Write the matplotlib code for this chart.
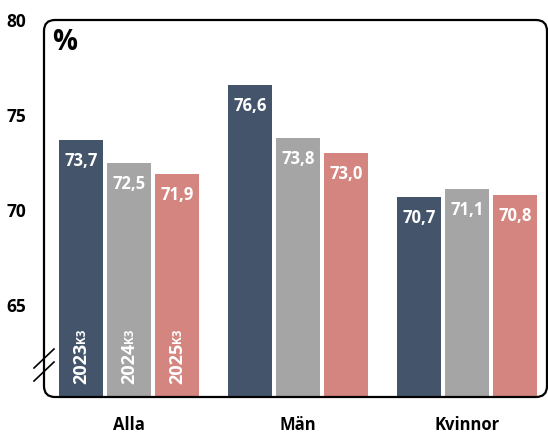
import matplotlib
matplotlib.use("Agg")
import matplotlib.pyplot as plt
from matplotlib.patches import FancyBboxPatch
from matplotlib.lines import Line2D
from matplotlib.transforms import IdentityTransform
from matplotlib import font_manager as fm
import numpy as np

# pick a definite bold face file
bold_path = None
for pref in ("OpenSans-Bold.ttf", "Lato-Bold.ttf"):
    for f in fm.fontManager.ttflist:
        if f.fname.split("/")[-1] == pref:
            bold_path = f.fname
            break
    if bold_path:
        break


def fp(size):
    if bold_path:
        return fm.FontProperties(fname=bold_path, size=size)
    return fm.FontProperties(family="DejaVu Sans", weight="bold", size=size)


categories = ["Alla", "Män", "Kvinnor"]
years = ["2023", "2024", "2025"]
quarter = "K3"
values = {
    "2023": [73.7, 76.6, 70.7],
    "2024": [72.5, 73.8, 71.1],
    "2025": [71.9, 73.0, 70.8],
}
colors = ["#44546A", "#A5A5A5", "#D5857F"]
yticks = [65, 70, 75, 80]

W, H = 548, 434
fig = plt.figure(figsize=(W / 100, H / 100), dpi=100)
ax_l, ax_r, ax_t, ax_b = 44, 547, 20, 397
ax = fig.add_axes([ax_l / W, 1 - ax_b / H, (ax_r - ax_l) / W, (ax_b - ax_t) / H])

ymin, ymax = 60.19, 79.92
ax.set_xlim(-0.503, 2.473)
ax.set_ylim(ymin, ymax)

x = np.arange(len(categories))
step = 0.284
bw = 0.262
for i, (yr, col) in enumerate(zip(years, colors)):
    xs = x + (i - 1) * step
    vals = values[yr]
    ax.bar(xs, np.array(vals) - ymin, bottom=ymin, width=bw, color=col, zorder=2)
    for xv, v in zip(xs, vals):
        ax.annotate(f"{v:.1f}".replace(".", ","), (xv, v), xytext=(0, -15),
                    textcoords="offset points", ha="center", va="center",
                    color="white", fontproperties=fp(12), zorder=3)
    t = ax.annotate(yr, (xs[0], ymin), xytext=(0, 9), textcoords="offset points",
                    rotation=90, ha="center", va="bottom", color="white",
                    fontproperties=fp(13), zorder=3)
    ax.annotate(quarter, xy=(1, 1), xycoords=t, xytext=(-1.8, 0), textcoords="offset points",
                rotation=90, ha="right", va="bottom", color="white",
                fontproperties=fp(8.5), zorder=3)

for s in ax.spines.values():
    s.set_visible(False)
ax.set_yticks(yticks)
ax.set_yticklabels([str(v) for v in yticks], fontproperties=fp(12.5))
ax.set_xticks(x)
ax.set_xticklabels(categories, fontproperties=fp(12))
ax.tick_params(axis="y", length=0, pad=13)
ax.tick_params(axis="x", length=0, pad=14)
ax.patch.set_visible(False)

box = FancyBboxPatch((ax_l, H - ax_b), ax_r - ax_l, ax_b - ax_t,
                     boxstyle="round,pad=0,rounding_size=11",
                     transform=IdentityTransform(), fill=False,
                     edgecolor="black", linewidth=1.6, zorder=5)
fig.add_artist(box)

for (x0, y0, x1, y1) in [(34, 368, 54, 349), (34, 381, 54, 362)]:
    fig.add_artist(Line2D([x0, x1], [H - y0, H - y1], transform=IdentityTransform(),
                          color="black", linewidth=1.2))

fig.text(65 / W, 1 - 42 / H, "%", fontproperties=fp(20), ha="center", va="center")

fig.savefig("out.png", dpi=100)
